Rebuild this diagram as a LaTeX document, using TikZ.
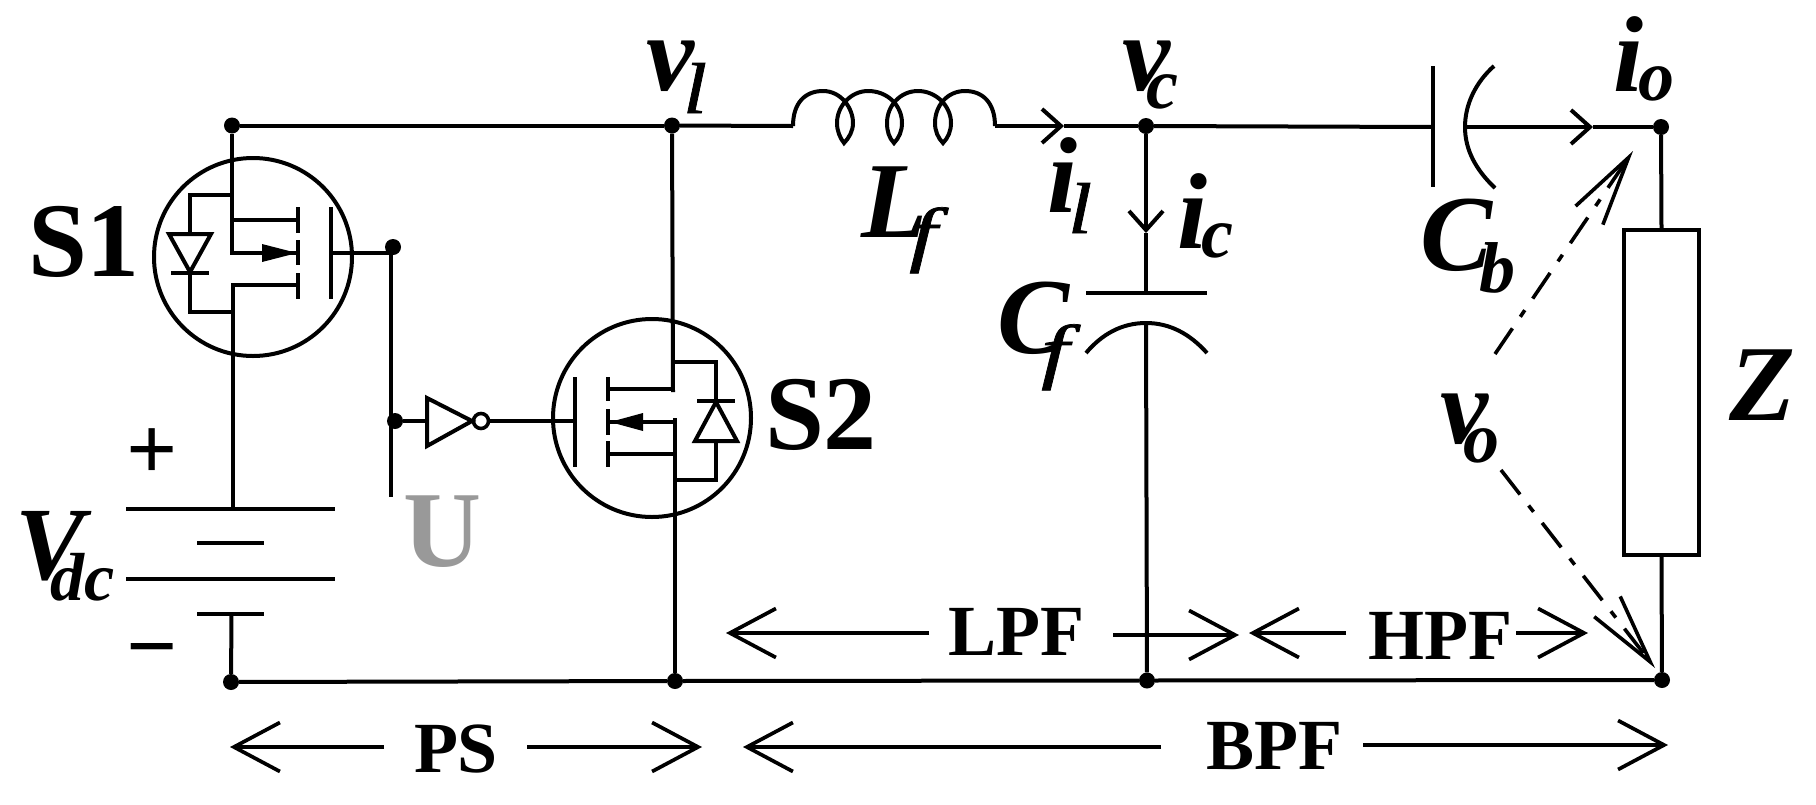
\documentclass[tikz,border=0pt]{standalone}
\usepackage{fontspec}
\setmainfont{Liberation Serif}
\newfontface\fsubface{Liberation Serif Italic}[FakeBold=1,FakeStretch=1.4]
\newfontface\lsubface{Liberation Serif Italic}[FakeBold=1,FakeStretch=1.2]
\usetikzlibrary{arrows.meta}
\newcommand{\fs}[1]{\fontsize{#1}{#1}\selectfont}
\tikzset{
  wire/.style={line width=4pt,line cap=butt,line join=miter,black},
  dot/.style={circle,fill=black,draw=none,minimum size=16pt,inner sep=0pt},
  dimline/.style={line width=3.7pt,-{Straight Barb[length=46pt,width=49pt]}},
  cur/.style={line width=4pt,-{Straight Barb[length=19pt,width=34pt]}},
  vline/.style={line width=3.6pt,dash pattern=on 31pt off 14pt on 8pt off 14pt,-{Straight Barb[length=70pt,width=33pt]}},
  lab/.style={anchor=base west,inner sep=0pt,outer sep=0pt,font=\bfseries\fs{72}},
  big/.style={anchor=base west,inner sep=0pt,outer sep=0pt,font=\bfseries\fs{108}},
  ilab/.style={anchor=base west,inner sep=0pt,outer sep=0pt,font=\bfseries\itshape\fs{108}},
  isub/.style={anchor=base west,inner sep=0pt,outer sep=0pt,font=\bfseries\itshape\fs{72}},
  fsub/.style={anchor=base west,inner sep=0pt,outer sep=0pt,font=\fsubface\fs{72}},
  lsub/.style={anchor=base west,inner sep=0pt,outer sep=0pt,font=\lsubface\fs{72}},
  headfill/.style={fill=black,draw=none},
  mos/.style={circle,draw=black,line width=4pt,minimum size=198pt,inner sep=0pt,fill=none}
}
\begin{document}
\begin{tikzpicture}[x=1pt,y=-1pt]
\useasboundingbox (0,0) rectangle (1816,804);
% junctions
\node[dot] (tl) at (232,125.5) {};
\node[dot] (vl) at (672,125.5) {};
\node[dot] (vc) at (1146,126) {};
\node[dot] (io) at (1661,127) {};
\node[dot] (bl) at (231,682) {};
\node[dot] (bm) at (675,681) {};
\node[dot] (bc) at (1147,680.5) {};
\node[dot] (br) at (1662,680) {};
\node[dot] (gs) at (393,247) {};
\node[dot] (gi) at (395,421) {};
% S1
\node[mos] (s1) at (253,257) {};
\coordinate (s1d) at (232,255);
\coordinate (s1s) at (232.5,283);
\coordinate (s1e) at (232.5,508);
\draw[wire] (tl) -- (s1d);
\draw[wire] (s1s) -- (s1e);
\draw[wire] (232,195) -| (190,234);
\draw[wire] (169,234) -- (211,234) -- (190,272) -- cycle;
\draw[wire] (171,273) -- (209,273);
\draw[wire] (190,273) |- (232,312);
\draw[wire] (298,207) -- (298,233) (298,240) -- (298,265) (298,273) -- (298,299);
\draw[wire] (232,220) -- (298,220) (232,253) -- (298,253) (232,285) -- (298,285);
\fill[headfill] (297,253) -- (262,244) -- (262,262) -- cycle;
\draw[wire] (331,207) -- (331,299);
\coordinate (g1) at (331,253);
\coordinate (g1c) at (391,253);
\coordinate (ue) at (391,497);
\draw[wire] (g1) -- (g1c);
\draw[wire] (391,247) -- (ue);
% inverter
\coordinate (invin) at (427,421);
\draw[wire] (gi) -- (invin);
\draw[wire] (427,398) -- (427,446) -- (472,421) -- cycle;
\node[circle,draw=black,line width=3.6pt,minimum size=15pt,inner sep=0pt] (bub) at (481,421) {};
\coordinate (g2) at (575,421);
\draw[wire] (bub) -- (g2);
% S2
\node[mos] (s2) at (652,418) {};
\draw[wire] (575,377) -- (575,467);
\draw[wire] (608,377) -- (608,401) (608,409) -- (608,435) (608,441) -- (608,467);
\coordinate (s2d) at (673,392);
\coordinate (s2s) at (675,418);
\draw[wire] (vl) -- (s2d);
\draw[wire] (s2s) -- (bm);
\draw[wire] (608,389) -- (673,389) (608,422) -- (675,422) (608,454) -- (675,454);
\fill[headfill] (610,422) -- (643,413) -- (643,431) -- cycle;
\draw[wire] (673,362) -| (716,401);
\draw[wire] (697,401) -- (735,401);
\draw[wire] (716,402) -- (695,441) -- (737,441) -- cycle;
\draw[wire] (716,441) |- (675,480);
% wires
\coordinate (lin) at (793,126);
\coordinate (lout) at (995,126);
\draw[wire] (tl) -- (vl);
\draw[wire] (vl) -- (lin);
\draw[wire] (lin) .. controls (793,103) and (805,91) .. (823,91)
  .. controls (841,91) and (853,108) .. (853,123)
  .. controls (853,131) and (849,138) .. (844,143)
  .. controls (840,138) and (837,131) .. (837,123)
  .. controls (837,106) and (851,91) .. (868,91)
  .. controls (888,91) and (902,106) .. (902,123)
  .. controls (902,131) and (899,138) .. (894,143)
  .. controls (889,138) and (887,131) .. (887,123)
  .. controls (887,106) and (900,91) .. (918,91)
  .. controls (936,91) and (951,106) .. (951,123)
  .. controls (951,131) and (948,138) .. (943,143)
  .. controls (938,138) and (935,131) .. (935,123)
  .. controls (935,106) and (947,91) .. (965,91)
  .. controls (983,91) and (995,103) .. (lout);
\coordinate (il) at (1064,126);
\draw[cur] (lout) -- (il);
\draw[wire] (il) -- (vc);
% Cb
\coordinate (cbl) at (1433,127);
\coordinate (cbr) at (1465,127);
\draw[wire] (vc) -- (cbl);
\draw[wire] (1433,66) -- (1433,187);
\draw[wire] (1494,66) .. controls (1476,82) and (1465,104) .. (cbr) .. controls (1465,150) and (1476,170) .. (1495,188);
\coordinate (ioa) at (1593,127);
\draw[cur] (cbr) -- (ioa);
\draw[wire] (ioa) -- (io);
% Z
\node[draw=black,line width=4pt,minimum width=75pt,minimum height=325pt,inner sep=0pt] (zz) at (1661.5,392.5) {};
\draw[wire] (io) -- (zz.north);
\draw[wire] (zz.south) -- (br);
% Cf
\coordinate (ic) at (1146,233);
\coordinate (cft) at (1146,293);
\coordinate (cfb) at (1146,323);
\draw[cur] (vc) -- (ic);
\draw[wire] (ic) -- (cft);
\draw[wire] (1086,293) -- (1207,293);
\draw[wire] (1086,353) .. controls (1102,334) and (1122,323) .. (cfb) .. controls (1170,323) and (1190,334) .. (1207,353);
\draw[wire] (cfb) -- (bc);
% bottom
\draw[wire] (bl) -- (bm);
\draw[wire] (bm) -- (bc);
\draw[wire] (bc) -- (br);
% battery
\coordinate (bat) at (231.5,614);
\draw[wire] (126,509) -- (335,509);
\draw[wire] (197,543) -- (264,543);
\draw[wire] (126,579) -- (335,579);
\draw[wire] (197,614) -- (264,614);
\draw[wire] (bat) -- (bl);
% dimension arrows
\coordinate (psl) at (230,747); \coordinate (psa) at (384,747);
\coordinate (psb) at (527,747); \coordinate (psr) at (702,747);
\draw[dimline] (psa) -- (psl);
\draw[dimline] (psb) -- (psr);
\coordinate (bpl) at (743,747); \coordinate (bpa) at (1161,747);
\coordinate (bpb) at (1363,745); \coordinate (bpr) at (1668,745);
\draw[dimline] (bpa) -- (bpl);
\draw[dimline] (bpb) -- (bpr);
\coordinate (lpl) at (726,633); \coordinate (lpa) at (929,633);
\coordinate (lpb) at (1113,635); \coordinate (lpr) at (1239,635);
\draw[dimline] (lpa) -- (lpl);
\draw[dimline] (lpb) -- (lpr);
\coordinate (hpl) at (1249,633); \coordinate (hpa) at (1346,633);
\coordinate (hpb) at (1516,633); \coordinate (hpr) at (1588,633);
\draw[dimline] (hpa) -- (hpl);
\draw[dimline] (hpb) -- (hpr);
% vo arrows
\coordinate (vou) at (1495,354); \coordinate (vout) at (1633,151);
\coordinate (vod) at (1501,470); \coordinate (vodt) at (1655,668);
\draw[vline] (vou) -- (vout);
\draw[vline] (vod) -- (vodt);
% labels
\node[big,font=\bfseries\fs{106}] (ls1) at (28,276) {S1};
\node[big,font=\bfseries\fs{106}] (ls2) at (765,449) {S2};
\node[big,text=black!40] (lu) at (403,566) {U};
\node[big,font=\bfseries\fs{90}] (lplus) at (126,479) {+};
\node[big,font=\bfseries\fs{90}] (lminus) at (126,676) {\char"2212};
\node[ilab,font=\bfseries\itshape\fs{104}] (lv) at (16,579) {V};
\node[isub,font=\bfseries\itshape\fs{68}] (ldc) at (50,600) {dc};
\node[lab] (tps) at (414,772) {PS};
\node[lab] (tbpf) at (1206,769) {BPF};
\node[lab] (tlpf) at (948,655) {LPF};
\node[lab] (thpf) at (1368,659) {HPF};
\node[ilab] (vl1) at (646,90) {v};
\node[lsub] (vl2) at (683,113) {l};
\node[ilab] (vc1) at (1122,90) {v};
\node[isub] (vc2) at (1146,108) {c};
\node[ilab] (lf1) at (861,237) {L};
\node[fsub] (lf2) at (909,258) {f};
\node[ilab] (il1) at (1047,212) {i};
\node[lsub] (il2) at (1068,233) {l};
\node[ilab] (ic1) at (1177,248) {i};
\node[isub] (ic2) at (1201,257) {c};
\node[ilab] (cf1) at (997,353) {C};
\node[fsub] (cf2) at (1041,375) {f};
\node[ilab] (cb1) at (1420,270) {C};
\node[isub] (cb2) at (1479,292) {b};
\node[ilab] (io1) at (1613,91) {i};
\node[isub] (io2) at (1638,100) {o};
\node[ilab] (vo1) at (1440,443) {v};
\node[isub] (vo2) at (1463,462) {o};
\node[ilab] (lz) at (1729,420) {Z};
\end{tikzpicture}
\end{document}
